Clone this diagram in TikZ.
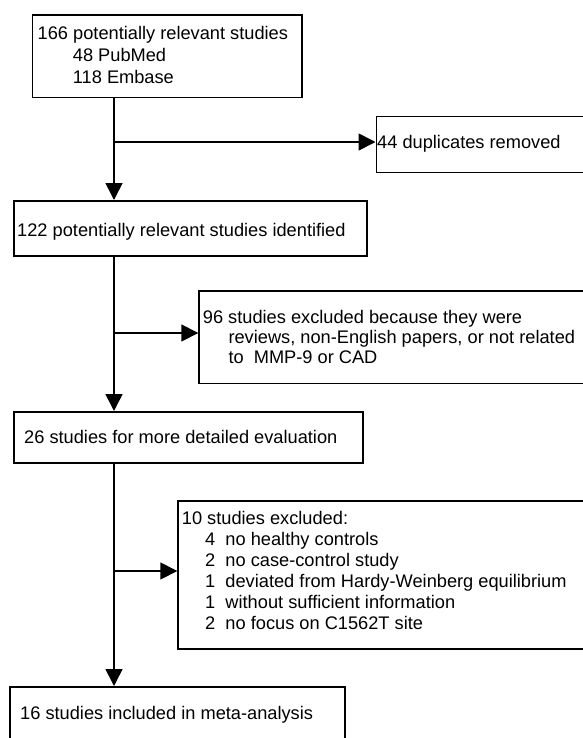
\documentclass[tikz,border=0pt]{standalone}
\usepackage{fontspec}
\setmainfont{Liberation Sans}
\usetikzlibrary{arrows.meta}
\begin{document}
\begin{tikzpicture}[x=1bp,y=-1bp,
  box/.style={draw, line width=1.6bp, inner sep=0pt, anchor=north west, rectangle},
  txt/.style={anchor=base west, inner sep=0pt, font=\fontsize{18.3}{21}\selectfont},
  conn/.style={line width=1.6bp},
  arr/.style={conn, -{Triangle[length=17bp,width=17bp]}}]
\useasboundingbox (0,0) rectangle (583,738);
% boxes
\node[box, minimum width=269.4bp, minimum height=82.7bp] (b1) at (31.6,14) {};
\node[box, minimum width=230bp, minimum height=56bp] (b2) at (375.5,115.7) {};
\node[box, minimum width=353bp, minimum height=55bp] (b3) at (13,200) {};
\node[box, minimum width=400bp, minimum height=92.5bp] (b4) at (198.3,290) {};
\node[box, minimum width=349bp, minimum height=51bp] (b5) at (13,411) {};
\node[box, minimum width=420bp, minimum height=148bp] (b6) at (177.3,500) {};
\node[box, minimum width=335bp, minimum height=80bp] (b7) at (9,686) {};
% texts
\node[txt] (t1a) at (37.5,39.5) {166 potentially relevant studies};
\node[txt] (t1b) at (72.7,61.5) {48 PubMed};
\node[txt] (t1c) at (72.7,83.5) {118 Embase};
\node[txt] (t2) at (377,148.5) {44 duplicates removed};
\node[txt] (t3) at (17,236.5) {122 potentially relevant studies identified};
\node[txt] (t4a) at (202.7,323.2) {96 studies excluded because they were};
\node[txt] (t4b) at (228.3,343.2) {reviews, non-English papers, or not related};
\node[txt] (t4c) at (228.3,363.2) {to\ \ MMP-9 or CAD};
\node[txt] (t5) at (24,443.5) {26 studies for more detailed evaluation};
\node[txt] (t6a) at (181.7,524.8) {10 studies excluded:};
\node[txt] (t6b) at (205,545.8) {4\ \ no healthy controls};
\node[txt] (t6c) at (205,566.8) {2\ \ no case-control study};
\node[txt] (t6d) at (205,587.8) {1\ \ deviated from Hardy-Weinberg equilibrium};
\node[txt] (t6e) at (205,608.8) {1\ \ without sufficient information};
\node[txt] (t6f) at (205,629.8) {2\ \ no focus on C1562T site};
\node[txt] (t7) at (20,719.5) {16 studies included in meta-analysis};
% spine and junctions
\coordinate (sp) at (114,0);
\coordinate (j1) at (114,142);
\coordinate (j2) at (114,333);
\coordinate (j3) at (114,571);
\draw[arr] (b1.south -| sp) -- (b3.north -| sp);
\draw[arr] (b3.south -| sp) -- (b5.north -| sp);
\draw[arr] (b5.south -| sp) -- (b7.north -| sp);
\draw[arr] (j1) -- (j1 -| b2.west);
\draw[arr] (j2) -- (j2 -| b4.west);
\draw[arr] (j3) -- (j3 -| b6.west);
\end{tikzpicture}
\end{document}
